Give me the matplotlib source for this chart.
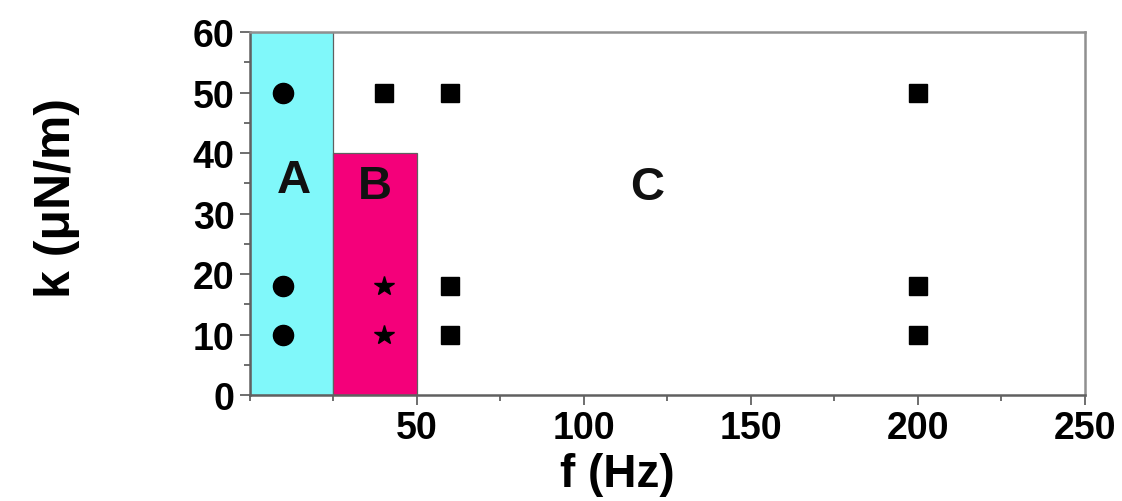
import matplotlib
matplotlib.use("Agg")
import matplotlib.pyplot as plt
from matplotlib.patches import Rectangle
from matplotlib.ticker import MultipleLocator

plt.rcParams['font.family'] = ['Liberation Sans', 'DejaVu Sans']
plt.rcParams['font.weight'] = 'bold'

# Regions (f range, k max)
region_names = ['A', 'B']
region_f0 = [0, 25]
region_f1 = [25, 50]
region_kmax = [60, 40]
region_colors = ['#80f8fa', '#f4007a']

# Data points
circle_f = [10, 10, 10]
circle_k = [50, 18, 10]
star_f = [40, 40]
star_k = [18, 10]
square_f = [40, 60, 200, 60, 200, 60, 200]
square_k = [50, 50, 50, 18, 18, 10, 10]

# Region labels
label_text = ['A', 'B', 'C']
label_f = [13, 37.5, 119]
label_k = [35.5, 34.5, 34.4]

xticks = [50, 100, 150, 200, 250]
yticks = [0, 10, 20, 30, 40, 50, 60]

fig = plt.figure(figsize=(11.22, 5.02), dpi=100)
ax = fig.add_axes([0.2228, 0.2112, 0.7442, 0.7228])

for f0, f1, km, c in zip(region_f0, region_f1, region_kmax, region_colors):
    ax.add_patch(Rectangle((f0, 0), f1 - f0, km, facecolor=c, edgecolor='#606060', linewidth=0.9, zorder=1))

ax.plot(circle_f, circle_k, 'o', color='black', markersize=14.5, linestyle='none', zorder=3)
ax.plot(star_f, star_k, '*', color='black', markersize=15, linestyle='none', zorder=3)
ax.plot(square_f, square_k, 's', color='black', markersize=12.5, linestyle='none', zorder=3)

for t, x, y in zip(label_text, label_f, label_k):
    ax.text(x, y, t, fontsize=34, fontweight='bold', ha='center', va='center', color='#111111', zorder=4)

ax.set_xlim(0, 250)
ax.set_ylim(0, 60)
ax.set_xticks(xticks)
ax.set_yticks(yticks)
ax.xaxis.set_minor_locator(MultipleLocator(25))
ax.yaxis.set_minor_locator(MultipleLocator(5))
ax.tick_params(axis='both', which='major', direction='out', length=7, width=1.2, color='#555555',
               labelsize=27, top=False, right=False, pad=4)
ax.tick_params(axis='both', which='minor', direction='out', length=4.5, width=1.2, color='#555555',
               top=False, right=False)
for lab in ax.get_xticklabels() + ax.get_yticklabels():
    lab.set_fontweight('bold')
for s in ax.spines.values():
    s.set_color('#909090')
    s.set_linewidth(1.8)
ax.spines['bottom'].set_color('#606060')
ax.spines['left'].set_color('#606060')

ax.set_xlabel('f (Hz)', fontsize=33, fontweight='bold')
ax.xaxis.label.set_va('center')
ax.xaxis.set_label_coords(0.44, -0.218)
ax.set_ylabel('k (\u03bcN/m)', fontsize=36, fontweight='bold')
ax.yaxis.label.set_va('center')
ax.yaxis.set_label_coords(-0.231, 0.545)

fig.savefig('out.png', dpi=100)
